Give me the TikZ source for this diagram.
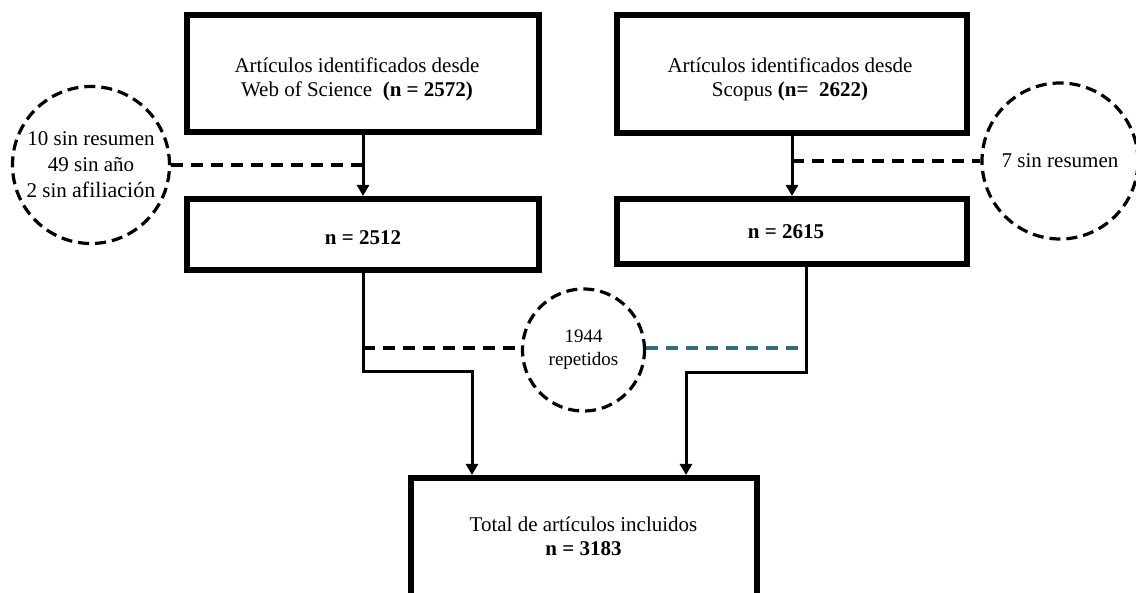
\documentclass[tikz,border=0pt]{standalone}
\usepackage{fontspec}
\setmainfont{Liberation Serif}
\usetikzlibrary{arrows.meta}
\definecolor{tealline}{HTML}{2F6E78}
\begin{document}
\begin{tikzpicture}[x=1pt,y=-1pt,
  box/.style={draw, line width=6pt, inner sep=0pt},
  conn/.style={line width=3pt},
  arr/.style={conn, -{Triangle[length=11pt,width=12pt]}},
  dashline/.style={line width=3.2pt, dash pattern=on 12pt off 8pt},
  note/.style={circle, draw, line width=3.2pt, dash pattern=on 11pt off 6pt, inner sep=0pt, align=center, font=\fontsize{21}{26}\selectfont},
  txt/.style={align=center, font=\fontsize{21}{24}\selectfont, inner sep=0pt}
]
\useasboundingbox (0,0) rectangle (1136,593);
\clip (0,0) rectangle (1136,593);

% boxes
\node[box, minimum width=352pt, minimum height=117pt] (wos) at (363,73.5) {};
\node[txt] (wost) at (357,79) {Artículos identificados desde\\Web of Science\ \ \textbf{(n = 2572)}};
\node[box, minimum width=352pt, minimum height=71pt] (w2) at (363,234.5) {};
\node[txt] (w2t) at (363,238) {\textbf{n = 2512}};
\node[box, minimum width=350pt, minimum height=118pt] (sc) at (792,74) {};
\node[txt] (sct) at (790,79.5) {Artículos identificados desde\\Scopus \textbf{(n=\ \ 2622)}};
\node[box, minimum width=350pt, minimum height=65pt] (s2) at (792,231.5) {};
\node[txt] (s2t) at (786,232) {\textbf{n = 2615}};
\node[box, minimum width=346pt, minimum height=124pt] (tot) at (584,540) {};
\node[txt] (tott) at (583.5,536) {Total de artículos incluidos\\\textbf{n = 3183}};

% circles
\node[note, minimum size=157pt] (c1) at (91,165) {10 sin resumen\\49 sin año\\2 sin {\fontsize{22}{26}\selectfont afiliación}};
\node[note, minimum size=156pt] (c2) at (1060,161) {7 sin resumen};
\node[note, minimum size=122pt, font=\fontsize{19}{23}\selectfont] (c3) at (583.5,350) {1944\\repetidos};

% helper coordinates
\coordinate (l1) at (363,372);
\coordinate (l2) at (472,372);
\coordinate (r1) at (806,373);
\coordinate (r2) at (686,373);
\coordinate (m1) at (363,348);

% connectors
\draw[arr] (wos.south) -- (w2.north);
\draw[dashline] (c1.east) -- (c1.east -| wos.south);
\draw[arr] (sc.south) -- (s2.north);
\draw[dashline] (sc.south |- c2.west) -- (c2.west);
\draw[arr] (w2.south) -- (l1) -- (l2) -- (l2 |- tot.north);
\draw[arr] (s2.south -| r1) -- (r1) -- (r2) -- (r2 |- tot.north);
\draw[dashline] (m1) -- (m1 -| c3.west);
\draw[dashline, tealline] (m1 -| c3.east) -- (m1 -| r1);
\end{tikzpicture}
\end{document}
